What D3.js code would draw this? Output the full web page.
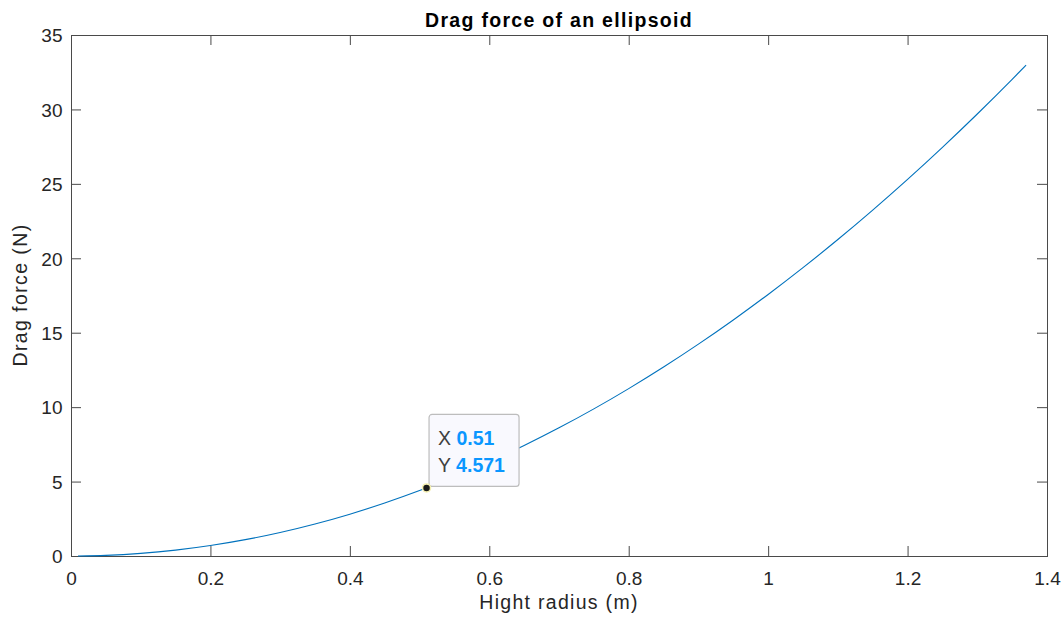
<html>
<meta charset="utf-8">
<script src="https://d3js.org/d3.v7.min.js"></script>
<style>
body { margin: 0; background: #fff; }
text { font-family: "Liberation Sans", Arial, sans-serif; }
</style>
<body>
<div id="chartContainer"></div>
<script>
var WIDTH = 1063, HEIGHT = 620;
var margin = {top: 35, right: 16, bottom: 64, left: 71};

// values
var radius = [0.01, 0.05, 0.1, 0.15, 0.2, 0.25, 0.3, 0.35, 0.4, 0.45, 0.5, 0.51,
  0.55, 0.6, 0.65, 0.7, 0.75, 0.8, 0.85, 0.9, 0.95, 1.0, 1.05, 1.1, 1.15,
  1.2, 1.25, 1.3, 1.35, 1.37];
var force = [0.002, 0.044, 0.176, 0.395, 0.703, 1.098, 1.581, 2.152, 2.811, 3.558,
  4.393, 4.571, 5.315, 6.325, 7.423, 8.609, 9.883, 11.245, 12.694, 14.232,
  15.857, 17.57, 19.371, 21.26, 23.237, 25.301, 27.453, 29.693, 32.021, 32.977];
var xTicks = [0, 0.2, 0.4, 0.6, 0.8, 1, 1.2, 1.4];
var yTicks = [0, 5, 10, 15, 20, 25, 30, 35];
var tipX = "0.51", tipY = "4.571";

var w = WIDTH - margin.left - margin.right;
var h = HEIGHT - margin.top - margin.bottom;

var svg = d3.select("#chartContainer").append("svg")
  .attr("width", WIDTH).attr("height", HEIGHT);
var g = svg.append("g").attr("transform", "translate(" + margin.left + "," + margin.top + ")");

var x = d3.scaleLinear().domain([0, 1.4]).range([0, w]);
var y = d3.scaleLinear().domain([0, 35]).range([h, 0]);

var axisColor = "#4a4a4a";
var tickLen = 10;

function styleAxis(sel) {
  sel.select(".domain").remove();
  sel.selectAll("line").attr("stroke", axisColor);
  sel.selectAll("text").attr("fill", "#262626").style("font-size", "19px");
}

// bottom and left with labels, top and right with ticks only
g.append("g").attr("transform", "translate(0," + h + ")")
  .call(d3.axisBottom(x).tickValues(xTicks).tickSizeInner(-tickLen).tickPadding(15.5).tickFormat(d3.format("")))
  .call(styleAxis);
g.append("g")
  .call(d3.axisLeft(y).tickValues(yTicks).tickSizeInner(-tickLen).tickPadding(8.5))
  .call(styleAxis)
  .selectAll("text").attr("dy", "0.36em");
g.append("g")
  .call(d3.axisTop(x).tickValues(xTicks).tickSizeInner(-tickLen).tickFormat(""))
  .call(styleAxis);
g.append("g").attr("transform", "translate(" + w + ",0)")
  .call(d3.axisRight(y).tickValues(yTicks).tickSizeInner(-tickLen).tickFormat(""))
  .call(styleAxis);

g.append("rect")
  .attr("x", 0.5).attr("y", 0.5).attr("width", w).attr("height", h)
  .attr("fill", "none").attr("stroke", axisColor).attr("stroke-width", 1);

var pts = radius.map(function (d, i) { return [d, force[i]]; });
var line = d3.line()
  .x(function (d) { return x(d[0]); })
  .y(function (d) { return y(d[1]); })
  .curve(d3.curveMonotoneX);
g.append("path").datum(pts)
  .attr("d", line)
  .attr("fill", "none")
  .attr("stroke", "#0072bd")
  .attr("stroke-width", 1.1);

// data tip
var px = x(+tipX), py = y(+tipY);
var tip = g.append("g").attr("transform", "translate(" + (px + 2) + "," + (py - 74) + ")");
tip.append("rect")
  .attr("x", 0.5).attr("y", 0.5).attr("width", 90).attr("height", 72)
  .attr("rx", 3).attr("ry", 3)
  .attr("fill", "#f9f9fe").attr("stroke", "#bdbdbd").attr("stroke-width", 1.2);
var rows = [["X", tipX], ["Y", tipY]];
rows.forEach(function (r, i) {
  var t = tip.append("text")
    .attr("x", 9.5).attr("y", 31 + i * 26.6)
    .style("font-size", "19.5px");
  t.append("tspan").attr("fill", "#404040").text(r[0] + " ");
  t.append("tspan").attr("fill", "#0a97ff").style("font-weight", "bold").text(r[1]);
});
g.append("circle")
  .attr("cx", px).attr("cy", py).attr("r", 4)
  .attr("fill", "#1a1a1a").attr("stroke", "#f5f0b0").attr("stroke-width", 1.5);

// titles
svg.append("text")
  .attr("x", margin.left + w / 2).attr("y", 26.5)
  .attr("text-anchor", "middle")
  .style("font-size", "19.5px").style("font-weight", "bold")
  .style("letter-spacing", "1.3px")
  .attr("fill", "#000")
  .text("Drag force of an ellipsoid");
svg.append("text")
  .attr("x", margin.left + w / 2).attr("y", 609)
  .attr("text-anchor", "middle")
  .style("font-size", "19.5px")
  .style("letter-spacing", "1.3px")
  .attr("fill", "#262626")
  .text("Hight radius (m)");
svg.append("text")
  .attr("transform", "translate(27,295) rotate(-90)")
  .attr("text-anchor", "middle")
  .style("font-size", "19.5px")
  .style("letter-spacing", "1.4px")
  .attr("fill", "#262626")
  .text("Drag force (N)");
</script>
</body>
</html>
